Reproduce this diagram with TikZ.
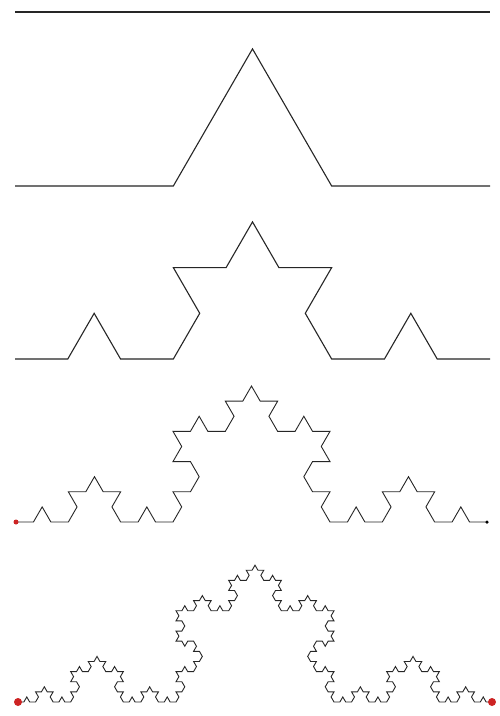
\documentclass[tikz,border=0pt]{standalone}
\definecolor{dotred}{RGB}{205,35,35}
\tikzset{kochline/.style={line width=1.1pt,line join=miter,black!85},
  thinkoch/.style={line width=0.9pt,line join=miter,black!85},
  reddot/.style={circle,fill=dotred,inner sep=0pt,minimum size=#1}}
\newcommand\kochbuild[2]{%
  \ifnum#1=0
    \xdef\kochpath{\kochpath -- ++(#2:\kochstep)}%
  \else
    \begingroup
    \pgfmathtruncatemacro\kn{#1-1}%
    \pgfmathtruncatemacro\ka{#2+60}%
    \pgfmathtruncatemacro\kb{#2-60}%
    \edef\next{\noexpand\kochbuild{\kn}{#2}\noexpand\kochbuild{\kn}{\ka}\noexpand\kochbuild{\kn}{\kb}\noexpand\kochbuild{\kn}{#2}}%
    \expandafter\endgroup\next
  \fi}
\newcommand\makekoch[2]{\gdef\kochpath{}\def\kochstep{#2}\kochbuild{#1}{0}}
\begin{document}
\begin{tikzpicture}[x=1pt,y=1pt]
\useasboundingbox (0,0) rectangle (499,-716);
\fill[white] (0,0) rectangle (499,-716);
% level 0
\coordinate (a0) at (15,-12);
\coordinate (b0) at (490,-12);
\draw[kochline] (a0) -- (b0);
% level 1
\coordinate (a1) at (15,-186);
\makekoch{1}{158.333}
\draw[kochline] (a1) \kochpath;
% level 2
\coordinate (a2) at (15,-359);
\makekoch{2}{52.778}
\draw[kochline] (a2) \kochpath;
% level 3
\coordinate (a3) at (16,-522);
\coordinate (b3) at (487,-522);
\makekoch{3}{17.444}
\draw[thinkoch] (a3) \kochpath;
\node[reddot=5pt] (r3) at (a3) {};
\node[circle,fill=black,inner sep=0pt,minimum size=3.5pt] (k3) at (b3) {};
% level 4
\coordinate (a4) at (18,-702);
\coordinate (b4) at (492,-702);
\makekoch{4}{5.852}
\draw[thinkoch] (a4) \kochpath;
\node[reddot=8pt] (r4) at (a4) {};
\node[reddot=8pt] (s4) at (b4) {};
\end{tikzpicture}
\end{document}
